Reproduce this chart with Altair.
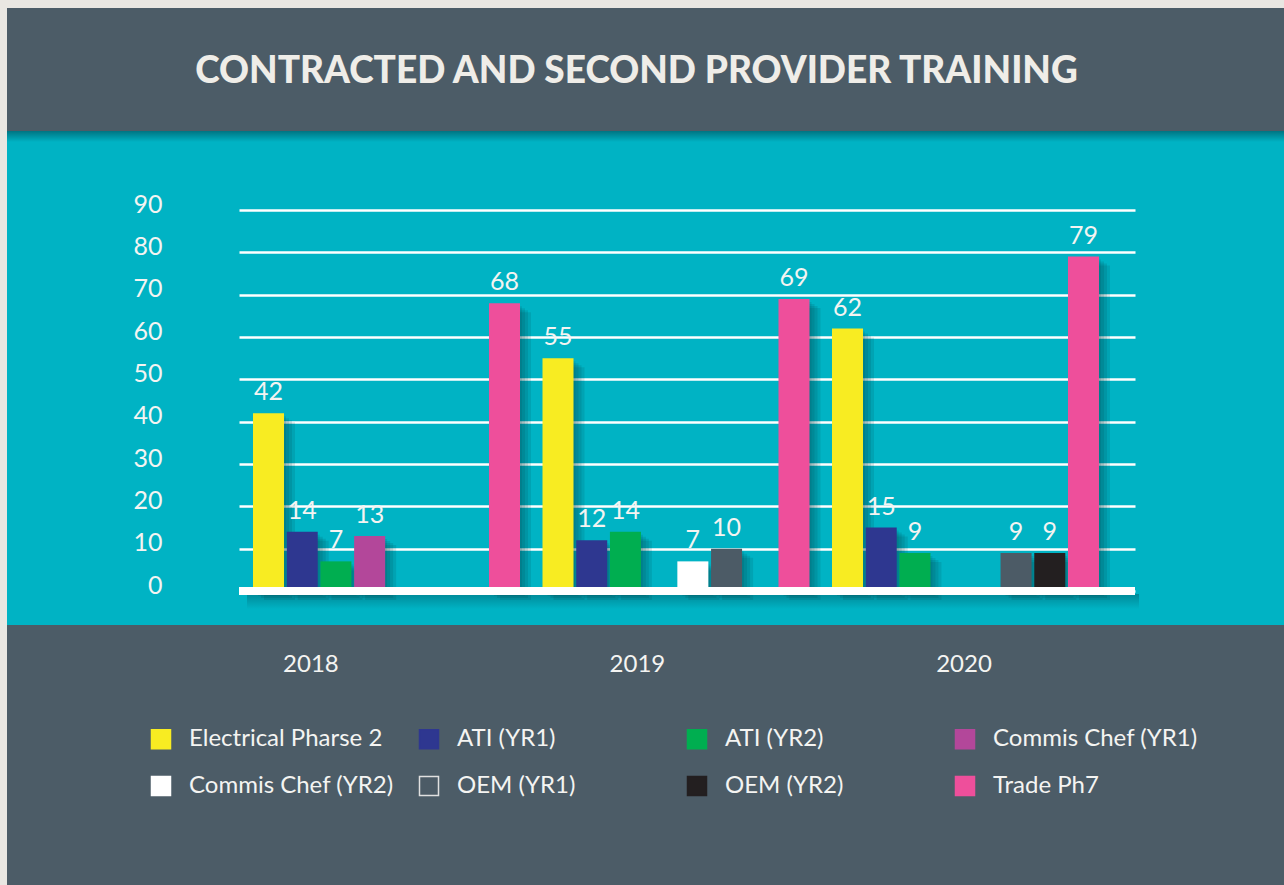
import altair as alt
import pandas as pd

# ---------------- data ----------------
years = ["2018", "2019", "2020"]
series = ["Electrical Pharse 2", "ATI (YR1)", "ATI (YR2)", "Commis Chef (YR1)",
          "Commis Chef (YR2)", "OEM (YR1)", "OEM (YR2)", "Trade Ph7"]
electrical_ph2 = [42, 55, 62]
ati_yr1 = [14, 12, 15]
ati_yr2 = [7, 14, 9]
commis_chef_yr1 = [13, None, None]
commis_chef_yr2 = [None, 7, None]
oem_yr1 = [None, 10, 9]
oem_yr2 = [None, None, 9]
trade_ph7 = [68, 69, 79]
colors = ["#f8ec22", "#2e3790", "#00ae50", "#b3479a",
          "#ffffff", "#4c5b66", "#231f20", "#ee4f9b"]
outline = ["#f8ec22", "#2e3790", "#00ae50", "#b3479a",
           "#ffffff", "#e0e0e0", "#231f20", "#ee4f9b"]
y_ticks = [0, 10, 20, 30, 40, 50, 60, 70, 80, 90]
TITLE = "CONTRACTED AND SECOND PROVIDER TRAINING"

rows = []
for s, vals in zip(series, [electrical_ph2, ati_yr1, ati_yr2, commis_chef_yr1,
                            commis_chef_yr2, oem_yr1, oem_yr2, trade_ph7]):
    for yr, v in zip(years, vals):
        if v is not None:
            rows.append({"year": yr, "series": s, "value": v})
df = pd.DataFrame(rows)
one = pd.DataFrame({"k": [0]})
yr_df = pd.DataFrame({"year": years})

# ---------------- layout ----------------
W, H = 896, 381
PL, PT = 239, 210
TEAL = "#00b3c4"
DARK = "#4c5c67"
LIGHT = "#e9e7e2"
TXT = "#f4f4f2"
FONT = "Lato"


def xscale(shift=0.0):
    return alt.Scale(type="band", domain=years, paddingInner=0.0684, paddingOuter=0.0817,
                     align=(12.65 + shift) / 47.3)


xoff = alt.Scale(type="band", domain=series, paddingInner=0.08, paddingOuter=0.04)
yscale = alt.Scale(domain=[0, 90], nice=False)
yaxis = alt.Axis(values=y_ticks, title=None, domain=False, ticks=False, tickSize=0,
                 grid=True, gridColor="#ffffff", gridWidth=2.5, gridOpacity=1,
                 labelFont=FONT, labelFontSize=25, labelColor=TXT,
                 labelPadding=77, labelOffset=-6)


def yenc():
    return alt.Y("value:Q", scale=yscale, axis=yaxis)


def deco(color, x, x2, y, y2, opacity=1.0):
    return alt.Chart(one).mark_rect(color=color, opacity=opacity).encode(
        x=alt.value(x), x2=alt.value(x2), y=alt.value(y), y2=alt.value(y2))


header = deco(DARK, 7 - PL, 1284 - PL, 8 - PT, 131 - PT)
top_strip = deco(LIGHT, -PL, 1284 - PL, -PT, 8 - PT)
left_strip = deco(LIGHT, -PL, 7 - PL, -PT, 885 - PT)
footer = deco(DARK, 7 - PL, 1284 - PL, 625 - PT, 885 - PT)
header_shadow = alt.Chart(one).mark_rect(
    color=alt.LinearGradient(gradient="linear", x1=0, y1=0, x2=0, y2=1,
                             stops=[alt.GradientStop(color="rgba(0,40,50,0.45)", offset=0),
                                    alt.GradientStop(color="rgba(0,40,50,0)", offset=1)])
).encode(x=alt.value(7 - PL), x2=alt.value(1284 - PL), y=alt.value(131 - PT), y2=alt.value(142 - PT))
base_shadow = alt.Chart(one).mark_rect(
    color=alt.LinearGradient(gradient="linear", x1=0, y1=0, x2=0, y2=1,
                             stops=[alt.GradientStop(color="rgba(0,60,70,0.35)", offset=0),
                                    alt.GradientStop(color="rgba(0,60,70,0)", offset=1)])
).encode(x=alt.value(8), x2=alt.value(W + 4), y=alt.value(H + 3), y2=alt.value(H + 18))

shadows = []
for i, (dx, dy) in enumerate([(2, 3), (5, 5), (8, 7), (11, 9)]):
    shadows.append(
        alt.Chart(df).mark_bar(color="#003d47", opacity=0.13, yOffset=dy, y2Offset=dy).encode(
            x=alt.X("year:N", scale=xscale(dx), axis=None),
            xOffset=alt.XOffset("series:N", scale=xoff),
            y=yenc(),
        )
    )

legend = alt.Legend(
    title=None, orient="none", legendX=149 - PL, legendY=517, direction="horizontal",
    columns=4, gridAlign="all", columnPadding=22, rowPadding=21,
    symbolType="square", symbolSize=361, symbolStrokeWidth=1.5,
    labelFont=FONT, labelFontSize=24, labelColor=TXT,
    labelOffset=16, labelLimit=400)

bars = alt.Chart(df).mark_bar(strokeWidth=0).encode(
    x=alt.X("year:N", scale=xscale(0), axis=None),
    xOffset=alt.XOffset("series:N", scale=xoff),
    y=yenc(),
    color=alt.Color("series:N", scale=alt.Scale(domain=series, range=colors), legend=legend),
    stroke=alt.Stroke("series:N", scale=alt.Scale(domain=series, range=outline), legend=legend),
)

baseline = alt.Chart(one).mark_rule(color="#ffffff", strokeWidth=8).encode(
    y=alt.datum(0), x=alt.value(0), x2=alt.value(W))

labels = alt.Chart(df).mark_text(dy=-13, baseline="alphabetic", font=FONT, fontSize=25,
                                 color=TXT).encode(
    x=alt.X("year:N", scale=xscale(0), axis=None),
    xOffset=alt.XOffset("series:N", scale=xoff),
    y=yenc(),
    text="value:Q",
)

year_axis = alt.Chart(yr_df).mark_point(opacity=0).encode(
    x=alt.X("year:O", scale=alt.Scale(type="point", domain=years, padding=0.372, align=0.294),
            axis=alt.Axis(title=None, domain=False, ticks=False, tickSize=0, grid=False,
                          labelAngle=0, labelFont=FONT, labelFontSize=24, labelColor=TXT,
                          labelBaseline="middle", labelPadding=73, zindex=1)),
    y=alt.value(0),
)

title = alt.Chart(one).mark_text(text=TITLE, font=FONT, fontSize=37, fontWeight=900,
                                 color="#efede8", align="center", baseline="alphabetic").encode(
    x=alt.value(636.5 - PL), y=alt.value(83 - PT))

chart = alt.layer(
    header, top_strip, left_strip, footer, header_shadow, base_shadow,
    *shadows, bars, baseline, labels, year_axis, title
).resolve_scale(x="independent", xOffset="independent").properties(
    width=W, height=H,
    padding={"left": PL, "top": PT, "right": 1284 - PL - W, "bottom": 885 - PT - H},
    autosize=alt.AutoSizeParams(type="none"),
    background=TEAL,
).configure_view(stroke=None)

chart.save("out.html", embed_options={"renderer": "svg", "actions": False})
